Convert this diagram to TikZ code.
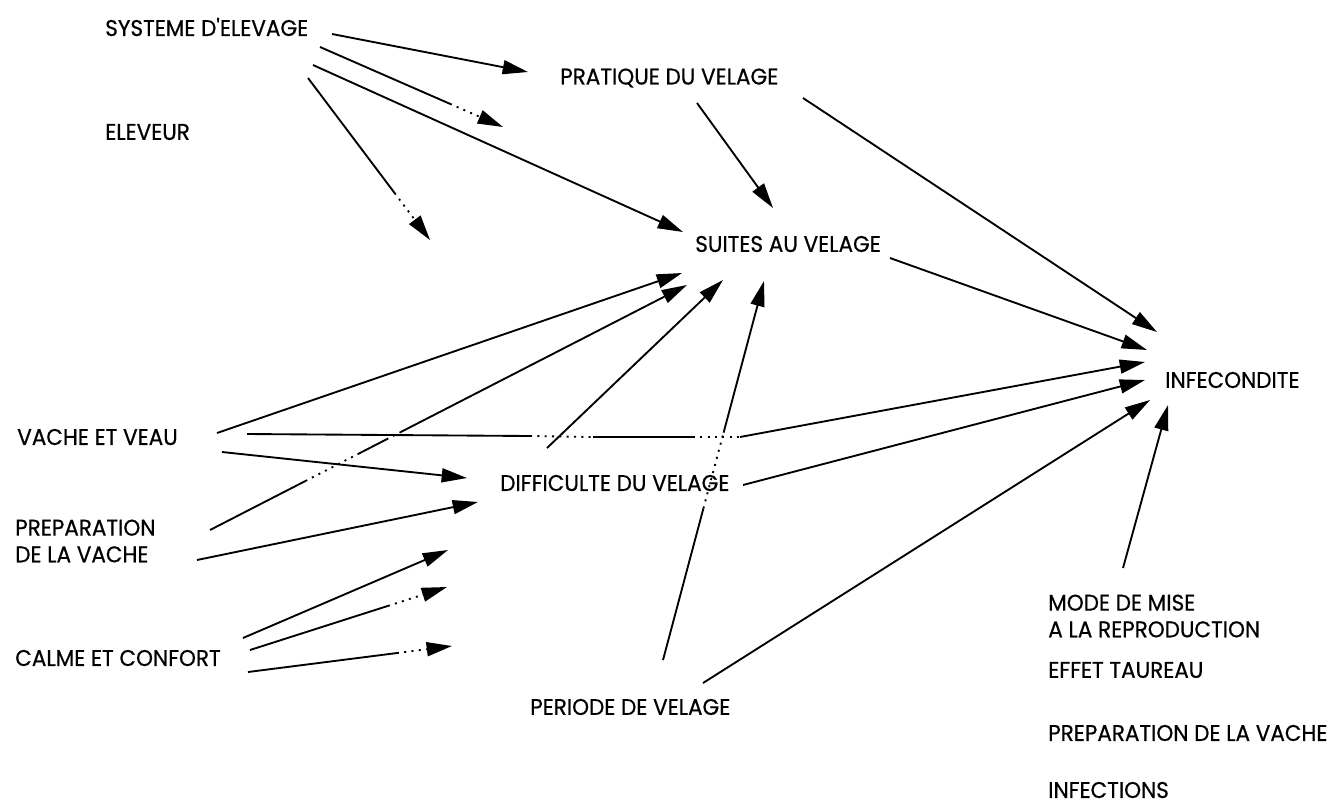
\documentclass[tikz,border=0pt]{standalone}
\usepackage{fontspec}
\setmainfont{Poppins}[FakeStretch=0.95,FakeBold=0.6]
\usetikzlibrary{arrows.meta,calc}
\tikzset{
  lbl/.style={anchor=west, inner sep=0pt, font=\fontsize{17}{20}\selectfont, align=left},
  conn/.style={line width=1.4pt, -{Triangle[length=19pt,width=10.5pt]}},
  plain/.style={line width=1.4pt},
  dots/.style={line width=1.4pt, dash pattern=on 1.5pt off 4pt},
  dotconn/.style={dots, -{Triangle[length=19pt,width=10.5pt]}},
}
\begin{document}
\begin{tikzpicture}[x=0.75pt,y=-0.75pt]
\useasboundingbox (0,0) rectangle (1334,804);
% nodes
\node[lbl] (sys)   at (105,27)  {SYSTEME D\textquotesingle ELEVAGE};
\node[lbl] (elev)  at (105,132) {ELEVEUR};
\node[lbl] (prat)  at (560,78)  {PRATIQUE DU VELAGE};
\node[lbl] (suit)  at (695,244) {SUITES AU VELAGE};
\node[lbl] (infe)  at (1165,380) {INFECONDITE};
\node[lbl] (vache) at (17,437)  {VACHE ET VEAU};
\node[lbl] (prep)  at (15,541)  {PREPARATION\\DE LA VACHE};
\node[lbl] (calme) at (15,658)  {CALME ET CONFORT};
\node[lbl] (diff)  at (500,483) {DIFFICULTE DU VELAGE};
\node[lbl] (peri)  at (530,707) {PERIODE DE VELAGE};
\node[lbl] (mode)  at (1048,616) {MODE DE MISE\\A LA REPRODUCTION};
\node[lbl] (eff)   at (1048,670) {EFFET TAUREAU};
\node[lbl] (prepb) at (1048,733) {PREPARATION DE LA VACHE};
\node[lbl] (infc)  at (1048,790) {INFECTIONS};

% endpoints
\coordinate (s1) at ([shift={(227,7)}]sys.west);
\coordinate (e1) at ([shift={(-32,-6)}]prat.west);
\coordinate (s2) at ([shift={(215,20)}]sys.west);
\coordinate (f2) at (503,127);
\coordinate (s3) at ([shift={(208,38)}]sys.west);
\coordinate (e3) at ([shift={(-12,-12)}]suit.west);
\coordinate (s4) at ([shift={(203,51)}]sys.west);
\coordinate (f4) at (430,240);
\coordinate (s5) at ([shift={(243,20)}]prat.west);
\coordinate (e5) at ([shift={(-8,-48)}]infe.west);
\coordinate (s6) at ([shift={(137,25)}]prat.west);
\coordinate (e6) at ([shift={(78,-36)}]suit.west);
\coordinate (s7) at ([shift={(195,14)}]suit.west);
\coordinate (e7) at ([shift={(-18,-30)}]infe.west);
\coordinate (s8) at ([shift={(200,-4)}]vache.west);
\coordinate (e8) at ([shift={(-13,29)}]suit.west);
\coordinate (s9) at ([shift={(195,-11)}]prep.west);
\coordinate (e9) at ([shift={(-8,41)}]suit.west);
\coordinate (s10) at ([shift={(47,-35)}]diff.west);
\coordinate (e10) at ([shift={(28,36)}]suit.west);
\coordinate (s11) at ([shift={(133,-47)}]peri.west);
\coordinate (e11) at ([shift={(69,37)}]suit.west);
\coordinate (s12) at ([shift={(230,-3)}]vache.west);
\coordinate (e12) at ([shift={(-20,-18)}]infe.west);
\coordinate (s13) at ([shift={(205,15)}]vache.west);
\coordinate (e13) at ([shift={(-33,-5)}]diff.west);
\coordinate (s14) at ([shift={(182,19)}]prep.west);
\coordinate (e14) at ([shift={(-22,19)}]diff.west);
\coordinate (s15) at ([shift={(243,2)}]diff.west);
\coordinate (e15) at ([shift={(-20,0)}]infe.west);
\coordinate (s16) at ([shift={(173,-24)}]peri.west);
\coordinate (e16) at ([shift={(-15,20)}]infe.west);
\coordinate (s17) at ([shift={(75,-48)}]mode.west);
\coordinate (e17) at ([shift={(3,25)}]infe.west);
\coordinate (s18) at ([shift={(228,-20)}]calme.west);
\coordinate (f18) at (448,550);
\coordinate (s19) at ([shift={(235,-8)}]calme.west);
\coordinate (f19) at (447,587);
\coordinate (s20) at ([shift={(233,14)}]calme.west);
\coordinate (f20) at (452,646);

% connectors
\draw[conn] (s1) -- (e1);
\draw[plain] (s2) -- ($(s2)!0.71!(f2)$);
\draw[dotconn] ($(s2)!0.71!(f2)$) -- (f2);
\draw[conn] (s3) -- (e3);
\draw[plain] (s4) -- ($(s4)!0.71!(f4)$);
\draw[dotconn] ($(s4)!0.71!(f4)$) -- (f4);
\draw[conn] (s5) -- (e5);
\draw[conn] (s6) -- (e6);
\draw[conn] (s7) -- (e7);
\draw[conn] (s8) -- (e8);
\draw[plain] (s9) -- ($(s9)!0.20!(e9)$);
\draw[dots] ($(s9)!0.20!(e9)$) -- ($(s9)!0.31!(e9)$);
\draw[plain] ($(s9)!0.31!(e9)$) -- ($(s9)!0.37!(e9)$);
\draw[dots] ($(s9)!0.37!(e9)$) -- ($(s9)!0.40!(e9)$);
\draw[conn] ($(s9)!0.40!(e9)$) -- (e9);
\draw[conn] (s10) -- (e10);
\draw[plain] (s11) -- ($(s11)!0.40!(e11)$);
\draw[dots] ($(s11)!0.40!(e11)$) -- ($(s11)!0.60!(e11)$);
\draw[conn] ($(s11)!0.60!(e11)$) -- (e11);
\draw[plain] (s12) -- (530,436);
\draw[dots] (530,436) -- (593,437);
\draw[plain] (593,437) -- (693,437);
\draw[dots] (693,437) -- (740,437);
\draw[conn] (740,437) -- (e12);
\draw[conn] (s13) -- (e13);
\draw[conn] (s14) -- (e14);
\draw[conn] (s15) -- (e15);
\draw[conn] (s16) -- (e16);
\draw[conn] (s17) -- (e17);
\draw[conn] (s18) -- (f18);
\draw[plain] (s19) -- ($(s19)!0.70!(f19)$);
\draw[dotconn] ($(s19)!0.70!(f19)$) -- (f19);
\draw[plain] (s20) -- ($(s20)!0.73!(f20)$);
\draw[dotconn] ($(s20)!0.73!(f20)$) -- (f20);
\end{tikzpicture}
\end{document}
